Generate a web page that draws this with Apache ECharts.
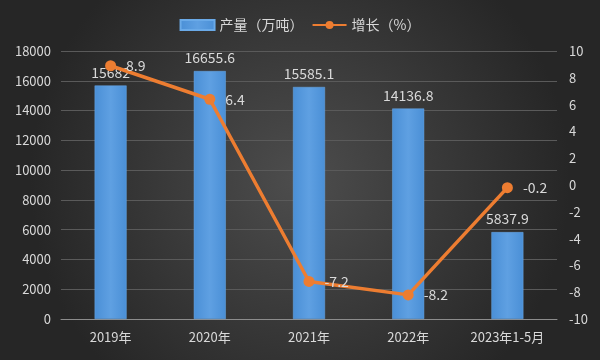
<!DOCTYPE html>
<html><head><meta charset="utf-8">
<script src="https://cdn.jsdelivr.net/npm/echarts@6/dist/echarts.min.js"></script>
<style>html,body{margin:0;padding:0;}#c{width:600px;height:360px;}</style>
</head><body><div id="c"></div>
<script>
const categories = ['2019年','2020年','2021年','2022年','2023年1-5月'];
const production = [15682, 16655.6, 15585.1, 14136.8, 5837.9];
const growth = [8.9, 6.4, -7.2, -8.2, -0.2];
const leftTicks = {min: 0, max: 18000, interval: 2000};
const rightTicks = {min: -10, max: 10, interval: 2};

const chart = echarts.init(document.getElementById('c'));
const txt = '#d9d9d9';
const font = '"Noto Sans CJK SC", "Noto Sans", sans-serif';
chart.setOption({
  backgroundColor: new echarts.graphic.RadialGradient(0.5, 0.5, 0.75, [
    {offset: 0, color: '#4d4d4d'}, {offset: 1, color: '#262626'}
  ]),
  textStyle: {fontFamily: font},
  legend: {
    top: 13, left: 'center', itemGap: 8, itemWidth: 34, itemHeight: 10,
    textStyle: {color: txt, fontSize: 14, fontFamily: font},
    data: [{name: '产量（万吨）', icon: 'rect'}, {name: '增长（%）'}]
  },
  grid: {left: 61, right: 43, top: 51, bottom: 41},
  xAxis: {
    type: 'category', data: categories,
    axisLine: {lineStyle: {color: '#8c8c8c', width: 1}},
    axisTick: {show: false},
    axisLabel: {color: txt, fontSize: 13, margin: 12, fontFamily: font}
  },
  yAxis: [{
    type: 'value', min: leftTicks.min, max: leftTicks.max, interval: leftTicks.interval,
    axisLine: {show: false}, axisTick: {show: false},
    axisLabel: {color: txt, fontSize: 13, margin: 10, formatter: v => String(v)},
    splitLine: {lineStyle: {color: '#5a5a5a', width: 1}}
  }, {
    type: 'value', min: rightTicks.min, max: rightTicks.max, interval: rightTicks.interval,
    axisLine: {show: false}, axisTick: {show: false},
    axisLabel: {color: txt, fontSize: 13, margin: 12},
    splitLine: {show: false}
  }],
  series: [{
    name: '产量（万吨）', type: 'bar', data: production, barWidth: 32,
    itemStyle: {
      color: new echarts.graphic.LinearGradient(0, 0, 1, 0, [
        {offset: 0, color: '#4a8fd6'}, {offset: 0.5, color: '#5fa0e2'}, {offset: 1, color: '#4a8fd6'}
      ]),
      borderColor: '#6aaae8', borderWidth: 0.5
    },
    label: {show: true, position: 'top', color: txt, fontSize: 14, distance: 6}
  }, {
    name: '增长（%）', type: 'line', yAxisIndex: 1, data: growth,
    symbol: 'circle', symbolSize: 11,
    lineStyle: {color: '#ed7d31', width: 3.5},
    itemStyle: {color: '#ed7d31'},
    label: {show: true, position: 'right', color: txt, fontSize: 14, distance: 10}
  }]
});
</script></body></html>
